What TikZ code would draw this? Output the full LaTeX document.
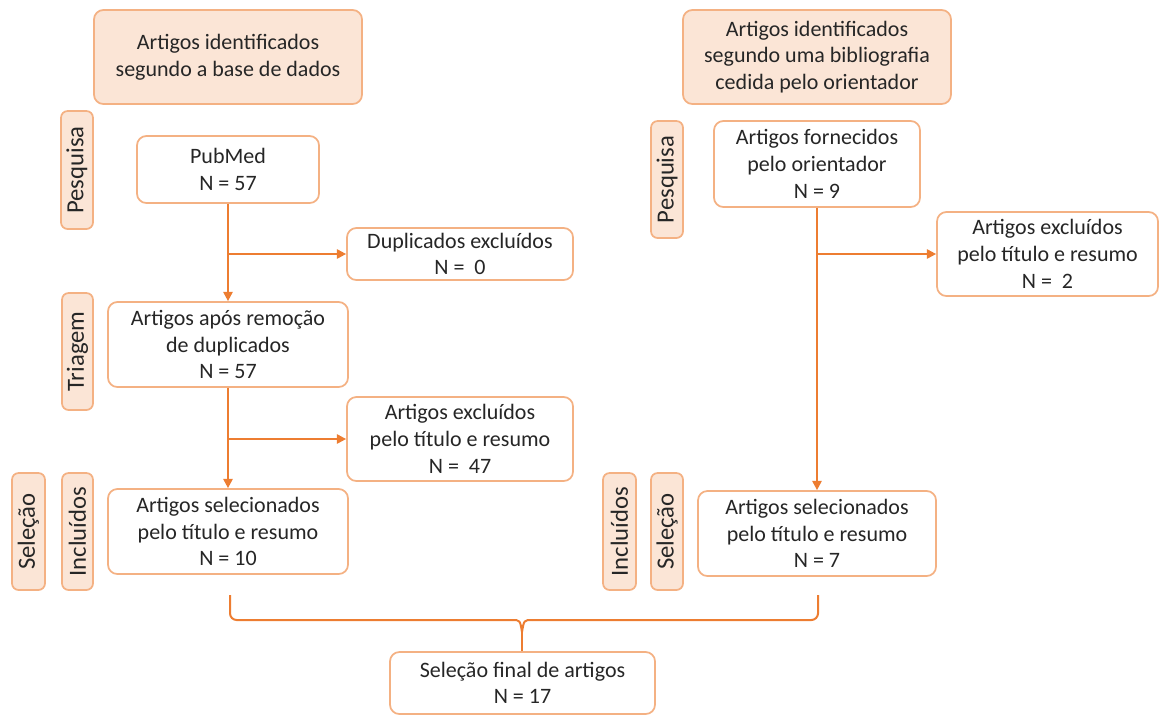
\documentclass[tikz,border=0pt]{standalone}
\usepackage{fontspec}
\setmainfont{Carlito}
\usetikzlibrary{arrows.meta}
\definecolor{peach}{HTML}{FBE5D6}
\definecolor{bord}{HTML}{F4B183}
\definecolor{lineor}{HTML}{ED7D31}
\definecolor{txt}{HTML}{262626}
\tikzset{
  box/.style={draw=bord, line width=1.3pt, rounded corners=7pt, fill=white, align=center, inner sep=0pt, text=txt, font=\fontsize{16.5}{20}\selectfont},
  hbox/.style={box, fill=peach},
  lbl/.style={box, fill=peach, rounded corners=5pt, font=\fontsize{18.5}{20}\selectfont},
  conn/.style={draw=lineor, line width=1.5pt},
  arr/.style={conn, -{Triangle[length=7pt,width=7pt]}},
}
\newcommand\bx[7]{\node[#1, minimum width={(#4-#2)*0.75pt}, minimum height={(#5-#3)*0.75pt}] (#6) at ({(#2+#4)/2},{(#3+#5)/2}) {#7};}
\newcommand\lb[6]{\node[lbl, minimum width={(#5-#3)*0.75pt}, minimum height={(#4-#2)*0.75pt}, rotate=90] (#6) at ({(#2+#4)/2},{(#3+#5)/2}) {#1};}
\begin{document}
\begin{tikzpicture}[x=0.75pt,y=-0.75pt]
\useasboundingbox (0,0) rectangle (1162,715);
% headers
\bx{hbox}{94}{10}{362}{104}{hl}{Artigos identificados\\segundo a base de dados}
\bx{hbox}{683}{10}{951}{104}{hr}{Artigos identificados\\segundo uma bibliografia\\cedida pelo orientador}
% side labels (text, x1, y1, x2, y2, name)
\lb{Pesquisa}{61}{111}{93}{229}{lpes}
\lb{Triagem}{62}{293}{93}{410}{ltri}
\lb{Seleção}{12}{473}{45}{590}{lsel}
\lb{Incluídos}{62}{473}{93}{590}{linc}
\lb{Pesquisa}{651}{121}{683}{238}{rpes}
\lb{Incluídos}{603}{473}{636}{590}{rinc}
\lb{Seleção}{651}{473}{683}{590}{rsel}
% left column
\bx{box}{137}{136}{319}{203}{pub}{PubMed\\N = 57}
\bx{box}{347}{228}{573}{280}{dup}{Duplicados excluídos\\N = \ 0}
\bx{box}{108}{302}{348}{387}{tri}{Artigos após remoção\\de duplicados\\N = 57}
\bx{box}{347}{397}{573}{481}{excl}{Artigos excluídos\\pelo título e resumo\\N = \ 47}
\bx{box}{108}{489}{348}{574}{sell}{Artigos selecionados\\pelo título e resumo\\N = 10}
% right column
\bx{box}{714}{121}{920}{207}{forn}{Artigos fornecidos\\pelo orientador\\N = 9}
\bx{box}{937}{212}{1158}{296}{exr}{Artigos excluídos\\pelo título e resumo\\N = \ 2}
\bx{box}{698}{491}{936}{576}{selr}{Artigos selecionados\\pelo título e resumo\\N = 7}
% final
\bx{box}{390}{652}{655}{714}{fin}{Seleção final de artigos\\N = 17}
% connectors
\draw[arr] (pub.south) -- (pub.south |- tri.north);
\draw[arr] (pub.south |- dup.west) -- (dup.west);
\draw[arr] (tri.south) -- (tri.south |- sell.north);
\draw[arr] (tri.south |- excl.west) -- (excl.west);
\draw[arr] (forn.south) -- (forn.south |- selr.north);
\draw[arr] (forn.south |- exr.west) -- (exr.west);
% brace
\coordinate (bl) at (230,595);
\coordinate (br) at (818,595);
\coordinate (bm) at (522,632);
\draw[conn, rounded corners=5pt] (bl) -- (230,620) -- (512,620);
\draw[conn] (512,620) .. controls (520,620) .. (bm);
\draw[conn, rounded corners=5pt] (br) -- (818,620) -- (532,620);
\draw[conn] (532,620) .. controls (524,620) .. (bm);
\draw[conn] (bm) -- (bm |- fin.north);
\end{tikzpicture}
\end{document}
